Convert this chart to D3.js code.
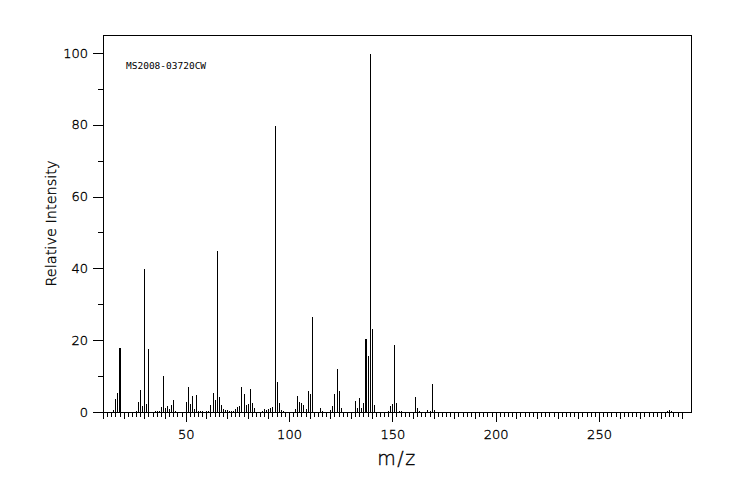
<!DOCTYPE html>
<html>
<head>
<meta charset="utf-8">
<script src="https://cdn.jsdelivr.net/npm/d3@7"></script>
<style>
  body { margin: 0; background: #fff; }
  svg { display: block; }
  .thin { font-family: 'DejaVu Sans'; font-weight: 200; fill: #000; stroke: #000; stroke-width: 0.35px; }
</style>
</head>
<body>
<script>
// peaks (m/z, relative intensity)
const peakMz = [
    14, 15, 16, 17, 17.6, 18, 19,
    26, 27, 28, 29, 30, 31, 32, 33, 34, 35, 36, 37, 38, 39, 40,
    41, 42, 43, 44, 45, 46, 47, 48, 49, 50, 51, 52, 53, 54, 55,
    56, 57, 58, 59, 60, 61, 62, 63, 64, 65, 66, 67, 68, 69, 70,
    71, 72, 73, 74, 75, 76, 77, 78, 79, 80, 81, 82, 83, 84, 85,
    86, 87, 88, 89, 90, 91, 92, 93, 94, 95, 96, 97, 98, 99, 100,
    101, 102, 103, 104, 105, 106, 107, 108, 109, 110, 111, 112, 113, 114, 115,
    116, 117, 118, 119, 120, 121, 121.6, 122, 123, 124, 125, 126, 127, 128, 129, 130,
    131, 132, 133, 134, 135, 136, 137, 137.4, 138, 139, 140, 141, 142, 143, 144, 145,
    146, 147, 148, 149, 150, 151, 152, 153, 154, 155, 157, 158, 159, 160,
    161, 162, 163, 164, 165, 166, 167, 168, 169, 170,
];
const peakIntensity = [
    0.4, 0.7, 4.0, 5.6, 18.1, 18.1, 0.3,
    0.6, 3.1, 6.4, 2.0, 40.0, 2.5, 17.9, 0.3, 0.3, 0.5, 0.6, 0.6, 1.7, 10.3, 1.3,
    1.9, 1.2, 2.2, 3.6, 0.6, 0.4, 0.4, 0.4, 0.4, 3.1, 7.3, 2.4, 4.7, 1.0, 5.0,
    0.6, 0.5, 0.6, 0.4, 0.6, 0.6, 2.2, 5.6, 3.6, 45.2, 4.5, 2.2, 1.2, 0.7, 0.9,
    0.6, 0.5, 0.6, 1.1, 1.6, 1.9, 7.3, 5.3, 2.3, 2.6, 6.8, 2.9, 1.4, 0.4, 0.4,
    0.4, 0.6, 1.1, 0.7, 1.1, 1.5, 1.8, 80.0, 8.7, 2.9, 0.9, 0.5, 0.3, 0.3, 0.3,
    0.3, 0.4, 1.2, 4.6, 3.2, 2.9, 2.3, 1.2, 6.0, 5.4, 26.8, 0.3, 0.3, 0.3, 1.5,
    0.6, 0.3, 0.3, 0.3, 0.9, 1.9, 5.4, 5.4, 12.2, 6.2, 1.3, 0.3, 0.3, 0.3, 0.3, 0.3,
    0.3, 3.4, 1.5, 4.3, 1.5, 2.9, 20.5, 20.5, 15.8, 100.0, 23.3, 2.3, 0.3, 0.3, 0.3, 0.3,
    0.3, 0.3, 0.6, 2.0, 2.6, 18.8, 2.9, 0.6, 0.6, 0.3, 0.3, 0.3, 0.3, 0.3,
    4.4, 1.5, 0.6, 0.3, 0.3, 0.3, 0.9, 0.6, 8.2, 0.9,
];
// tiny one-pixel traces above m/z 170
const traceMz = [
    171, 172, 173, 174, 175, 176, 178, 179, 180, 181, 183, 184, 185, 186, 187, 188,
    189, 190, 192, 193, 194, 195, 196, 197, 199, 200, 201, 203, 204, 205, 207, 209,
    210, 211, 213, 215, 217, 219, 220, 221, 225, 227, 229, 231, 233, 234, 237, 239,
    243, 244, 245, 251, 253, 256, 259, 263, 266, 267, 268, 269, 271, 273, 275, 281, 286,
];
const traceLevel = 0.3;
const tailMz = [283, 284, 285];
const tailIntensity = [0.6, 0.9, 0.6];

const xTickLabels = [50, 100, 150, 200, 250];
const yTickLabels = [0, 20, 40, 60, 80, 100];
const sampleId = 'MS2008-03720CW';

const W = 744;
const H = 500;

const x = d3.scaleLinear().domain([10, 294.5]).range([103, 691]);
const y = d3.scaleLinear().domain([0, 105]).range([412, 35]);
const px = (v) => Math.round(x(v)) + 0.5;

const svg = d3.select('body').append('svg')
    .attr('width', W)
    .attr('height', H);

const peaks = peakMz.map((mz, i) => ({mz, v: peakIntensity[i]}))
    .concat(traceMz.map((mz) => ({mz, v: traceLevel})))
    .concat(tailMz.map((mz, i) => ({mz, v: tailIntensity[i]})));

// spectrum lines
svg.append('g')
    .attr('shape-rendering', 'crispEdges')
    .selectAll('line')
    .data(peaks)
    .join('line')
    .attr('x1', (d) => px(d.mz))
    .attr('x2', (d) => px(d.mz))
    .attr('y1', y(0) + 0.5)
    .attr('y2', (d) => Math.min(y(0) - 0.5, Math.round(y(d.v)) + 0.5))
    .attr('stroke', '#000')
    .attr('stroke-width', 1);

// x axis: minor every 2, medium every 10, labelled every 50
const xAxisG = svg.append('g')
    .attr('transform', `translate(0, ${y(0)})`)
    .attr('shape-rendering', 'crispEdges');
const drawX = (values, size, labels) => {
    const ax = d3.axisBottom(x).tickValues(values).tickSize(size).tickPadding(8);
    if (!labels) ax.tickFormat('');
    const g = xAxisG.append('g').call(ax);
    g.select('.domain').remove();
    return g;
};
drawX(d3.range(10, 291, 2).filter((v) => v % 10 !== 0), 5, false);
drawX(d3.range(10, 291, 10).filter((v) => v % 50 !== 0), 7, false);
drawX(xTickLabels, 10, true)
    .selectAll('text')
    .attr('class', 'thin')
    .attr('font-size', 13);

// y axis
const yAxisG = svg.append('g')
    .attr('transform', `translate(${x(10)}, 0)`)
    .attr('shape-rendering', 'crispEdges');
const minorY = yAxisG.append('g')
    .call(d3.axisLeft(y).tickValues([10, 30, 50, 70, 90]).tickSize(5).tickFormat(''));
minorY.select('.domain').remove();
const majorY = yAxisG.append('g')
    .call(d3.axisLeft(y).tickValues(yTickLabels).tickSize(10).tickPadding(5));
majorY.select('.domain').remove();
majorY.selectAll('text')
    .attr('class', 'thin')
    .attr('font-size', 13);

// frame
svg.append('rect')
    .attr('x', x(10) + 0.5)
    .attr('y', y(105) + 0.5)
    .attr('width', x(294.5) - x(10))
    .attr('height', y(0) - y(105))
    .attr('fill', 'none')
    .attr('stroke', '#000')
    .attr('shape-rendering', 'crispEdges');

svg.append('text')
    .attr('x', 126)
    .attr('y', 69)
    .attr('font-family', 'DejaVu Sans Mono')
    .attr('font-size', 9.5)
    .text(sampleId);

svg.append('text')
    .attr('class', 'thin')
    .attr('x', (x(10) + x(294.5)) / 2)
    .attr('y', 465)
    .attr('text-anchor', 'middle')
    .attr('font-size', 19)
    .attr('letter-spacing', 1.5)
    .text('m/z');

svg.append('text')
    .attr('class', 'thin')
    .attr('transform', `translate(56, ${(y(0) + y(105)) / 2}) rotate(-90)`)
    .attr('text-anchor', 'middle')
    .attr('font-size', 14.5)
    .text('Relative Intensity');
</script>
</body>
</html>
